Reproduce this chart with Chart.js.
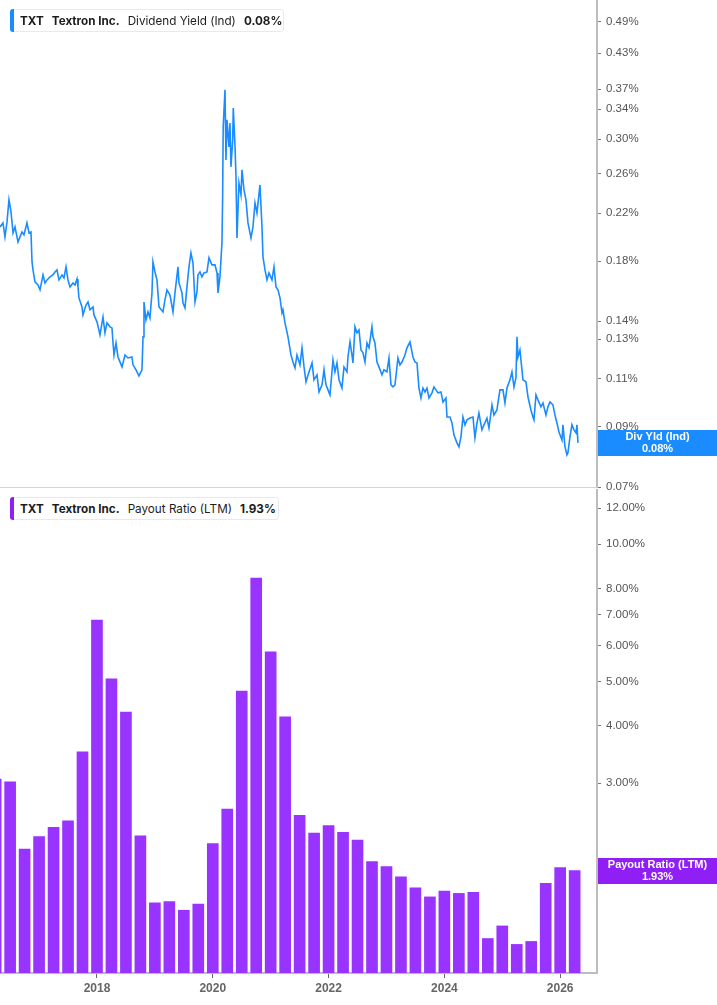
<!DOCTYPE html>
<html>
<head>
<meta charset="utf-8">
<script src="https://cdn.jsdelivr.net/npm/chart.js@4.4.1/dist/chart.umd.min.js"></script>
<style>
  html, body { margin: 0; padding: 0; background: #fff; }
  #wrap { position: relative; width: 717px; height: 1005px; overflow: hidden; }
  #topChart { position: absolute; left: 0; top: 0; }
  #botChart { position: absolute; left: 0; top: 487px; }
  .sep { position: absolute; left: 0; top: 487px; width: 597px; height: 1px; background: #d4d4d4; }
  .legend {
    position: absolute; left: 10px; height: 23px; line-height: 23px;
    padding: 0 0 0 9px; background: #fff;
    border: 1px solid #e9e9e9; border-radius: 3px;
    font-family: Inter, "Noto Sans", sans-serif; font-size: 11.7px; color: #1c1c1c;
    white-space: nowrap; box-sizing: border-box;
  }
  .legend .bar { position: absolute; left: -1px; top: -1px; bottom: -1px; width: 4px; border-radius: 3px 0 0 3px; }
  .legend b { font-weight: 700; }
  .legend span { margin-right: 8px; }
</style>
</head>
<body>
<div id="wrap">
  <canvas id="topChart" width="717" height="500"></canvas>
  <canvas id="botChart" width="717" height="518"></canvas>
  <div class="sep"></div>
  <div class="legend" style="top:9px; width:274px;">
    <div class="bar" style="background:#1a8cff"></div>
    <span><b>TXT</b></span><span><b>Textron Inc.</b></span><span>Dividend Yield (Ind)</span><b>0.08%</b>
  </div>
  <div class="legend" style="top:497px; width:269px;">
    <div class="bar" style="background:#8f1ff5"></div>
    <span><b>TXT</b></span><span><b>Textron Inc.</b></span><span>Payout Ratio (LTM)</span><b>1.93%</b>
  </div>
</div>
<script>
// dividend yield (%), dates as decimal years
const yieldDates = [
  2016.325, 2016.377, 2016.411, 2016.446, 2016.480, 2016.515, 2016.550, 2016.584, 2016.636, 2016.705,
  2016.739, 2016.791, 2016.826, 2016.860, 2016.878, 2016.895, 2016.929, 2016.981, 2017.016, 2017.068,
  2017.102, 2017.137, 2017.189, 2017.240, 2017.275, 2017.309, 2017.344, 2017.396, 2017.430, 2017.465,
  2017.499, 2017.534, 2017.586, 2017.620, 2017.655, 2017.672, 2017.689, 2017.741, 2017.758, 2017.810,
  2017.845, 2017.879, 2017.931, 2017.948, 2018.000, 2018.052, 2018.104, 2018.138, 2018.173, 2018.225,
  2018.259, 2018.277, 2018.294, 2018.328, 2018.363, 2018.432, 2018.484, 2018.535, 2018.604, 2018.622,
  2018.674, 2018.725, 2018.777, 2018.795, 2018.812, 2018.846, 2018.881, 2018.915, 2018.950, 2018.967,
  2019.002, 2019.036, 2019.071, 2019.140, 2019.174, 2019.209, 2019.261, 2019.313, 2019.347, 2019.399,
  2019.416, 2019.468, 2019.485, 2019.520, 2019.554, 2019.589, 2019.623, 2019.658, 2019.693, 2019.727,
  2019.744, 2019.779, 2019.813, 2019.848, 2019.900, 2019.934, 2019.986, 2020.038, 2020.073, 2020.090,
  2020.124, 2020.159, 2020.170, 2020.180, 2020.211, 2020.228, 2020.245, 2020.280, 2020.297, 2020.314,
  2020.344, 2020.354, 2020.383, 2020.401, 2020.418, 2020.452, 2020.487, 2020.504, 2020.539, 2020.573,
  2020.608, 2020.660, 2020.694, 2020.729, 2020.763, 2020.815, 2020.850, 2020.867, 2020.902, 2020.936,
  2020.971, 2021.022, 2021.057, 2021.092, 2021.126, 2021.161, 2021.195, 2021.212, 2021.247, 2021.299,
  2021.351, 2021.385, 2021.420, 2021.454, 2021.506, 2021.541, 2021.576, 2021.610, 2021.645, 2021.714,
  2021.748, 2021.800, 2021.835, 2021.887, 2021.921, 2021.955, 2021.990, 2022.024, 2022.076, 2022.110,
  2022.145, 2022.180, 2022.231, 2022.266, 2022.318, 2022.335, 2022.370, 2022.404, 2022.421, 2022.456,
  2022.490, 2022.525, 2022.560, 2022.594, 2022.629, 2022.663, 2022.698, 2022.749, 2022.767, 2022.801,
  2022.836, 2022.870, 2022.922, 2022.957, 2023.008, 2023.043, 2023.078, 2023.112, 2023.147, 2023.198,
  2023.233, 2023.268, 2023.319, 2023.354, 2023.406, 2023.440, 2023.458, 2023.492, 2023.527, 2023.561,
  2023.596, 2023.630, 2023.665, 2023.699, 2023.734, 2023.786, 2023.820, 2023.855, 2023.889, 2023.941,
  2023.976, 2024.027, 2024.045, 2024.097, 2024.131, 2024.166, 2024.217, 2024.252, 2024.286, 2024.321,
  2024.356, 2024.390, 2024.442, 2024.494, 2024.528, 2024.563, 2024.597, 2024.649, 2024.684, 2024.735,
  2024.770, 2024.822, 2024.856, 2024.908, 2024.925, 2024.960, 2025.012, 2025.046, 2025.081, 2025.133,
  2025.167, 2025.202, 2025.236, 2025.254, 2025.271, 2025.305, 2025.340, 2025.357, 2025.409, 2025.444,
  2025.495, 2025.530, 2025.547, 2025.582, 2025.616, 2025.668, 2025.703, 2025.754, 2025.789, 2025.824,
  2025.875, 2025.910, 2025.944, 2025.979, 2026.031, 2026.048, 2026.083, 2026.117, 2026.134, 2026.169,
  2026.203, 2026.238, 2026.273, 2026.290, 2026.307
];
const yieldValues = [
  0.2078, 0.2113, 0.1993, 0.2122, 0.2327, 0.2213, 0.2027, 0.2078, 0.1952, 0.2035,
  0.2010, 0.2113, 0.2027, 0.2035, 0.1795, 0.1736, 0.1651, 0.1630, 0.1597, 0.1700,
  0.1644, 0.1665, 0.1686, 0.1700, 0.1721, 0.1736, 0.1665, 0.1700, 0.1679, 0.1758,
  0.1665, 0.1617, 0.1644, 0.1630, 0.1672, 0.1617, 0.1544, 0.1487, 0.1438, 0.1499,
  0.1518, 0.1469, 0.1487, 0.1438, 0.1397, 0.1323, 0.1426, 0.1334, 0.1391, 0.1368,
  0.1362, 0.1279, 0.1216, 0.1279, 0.1206, 0.1157, 0.1216, 0.1201, 0.1206, 0.1167,
  0.1143, 0.1114, 0.1143, 0.1312, 0.1518, 0.1408, 0.1456, 0.1420, 0.1577, 0.1795,
  0.1721, 0.1665, 0.1487, 0.1456, 0.1531, 0.1597, 0.1563, 0.1456, 0.1577, 0.1758,
  0.1644, 0.1577, 0.1512, 0.1481, 0.1617, 0.1758, 0.1864, 0.1788, 0.1518, 0.1583,
  0.1700, 0.1721, 0.1686, 0.1714, 0.1721, 0.1826, 0.1773, 0.1773, 0.1714, 0.1577,
  0.1686, 0.1952, 0.2356, 0.3158, 0.3687, 0.2751, 0.3252, 0.2904, 0.3211, 0.2672,
  0.2991, 0.3419, 0.2929, 0.2562, 0.1985, 0.2498, 0.2376, 0.2638, 0.2426, 0.2327,
  0.2113, 0.1985, 0.2078, 0.2298, 0.2204, 0.2477, 0.2078, 0.1833, 0.1736, 0.1665,
  0.1714, 0.1665, 0.1758, 0.1617, 0.1597, 0.1544, 0.1450, 0.1469, 0.1391, 0.1312,
  0.1216, 0.1181, 0.1152, 0.1216, 0.1167, 0.1253, 0.1157, 0.1087, 0.1119, 0.1176,
  0.1096, 0.1119, 0.1042, 0.1073, 0.1143, 0.1073, 0.1051, 0.1029, 0.1191, 0.1133,
  0.1176, 0.1096, 0.1059, 0.1157, 0.1133, 0.1206, 0.1284, 0.1216, 0.1176, 0.1368,
  0.1334, 0.1350, 0.1242, 0.1227, 0.1181, 0.1279, 0.1253, 0.1368, 0.1312, 0.1279,
  0.1181, 0.1157, 0.1119, 0.1143, 0.1133, 0.1201, 0.1073, 0.1064, 0.1073, 0.1201,
  0.1167, 0.1181, 0.1216, 0.1253, 0.1284, 0.1232, 0.1206, 0.1181, 0.1176, 0.1059,
  0.1016, 0.1059, 0.1042, 0.1059, 0.1016, 0.1038, 0.1064, 0.1051, 0.1038, 0.1042,
  0.0999, 0.1016, 0.0938, 0.0938, 0.0915, 0.0870, 0.0842, 0.0828, 0.0863, 0.0938,
  0.0908, 0.0927, 0.0934, 0.0938, 0.0860, 0.0915, 0.0954, 0.0889, 0.0908, 0.0934,
  0.0896, 0.0987, 0.0946, 0.0966, 0.0995, 0.1051, 0.1051, 0.0995, 0.1059, 0.1096,
  0.1133, 0.1064, 0.1105, 0.1312, 0.1206, 0.1242, 0.1143, 0.1096, 0.1087, 0.1020,
  0.0966, 0.0938, 0.0927, 0.1029, 0.1008, 0.0979, 0.0995, 0.0946, 0.0979, 0.0999,
  0.0987, 0.0946, 0.0915, 0.0881, 0.0852, 0.0908, 0.0828, 0.0801, 0.0808, 0.0863,
  0.0908, 0.0889, 0.0878, 0.0908, 0.0842
];

// payout ratio (LTM, %), quarterly
const payoutQuarters = [
  '2016Q1', '2016Q2', '2016Q3', '2016Q4', '2017Q1', '2017Q2', '2017Q3', '2017Q4',
  '2018Q1', '2018Q2', '2018Q3', '2018Q4', '2019Q1', '2019Q2', '2019Q3', '2019Q4',
  '2020Q1', '2020Q2', '2020Q3', '2020Q4', '2021Q1', '2021Q2', '2021Q3', '2021Q4',
  '2022Q1', '2022Q2', '2022Q3', '2022Q4', '2023Q1', '2023Q2', '2023Q3', '2023Q4',
  '2024Q1', '2024Q2', '2024Q3', '2024Q4', '2025Q1', '2025Q2', '2025Q3', '2025Q4',
  '2026Q1'
];
const payoutValues = [
  3.06, 3.02, 2.15, 2.29, 2.40, 2.48, 3.51, 6.82,
  5.07, 4.29, 2.30, 1.64, 1.65, 1.58, 1.63, 2.21,
  2.63, 4.77, 8.43, 5.81, 4.19, 2.55, 2.33, 2.42,
  2.34, 2.25, 2.02, 1.97, 1.87, 1.77, 1.69, 1.74,
  1.72, 1.73, 1.37, 1.46, 1.33, 1.35, 1.81, 1.96,
  1.93
];

const yieldTicks = [0.07, 0.09, 0.11, 0.13, 0.14, 0.18, 0.22, 0.26, 0.30, 0.34, 0.37, 0.43, 0.49];
const payoutTicks = [2, 3, 4, 5, 6, 7, 8, 10, 12];
const yearTicks = [2018, 2020, 2022, 2024, 2026];

const xMin = 2016.325, xMax = 2026.636;
const axisFont = '"Liberation Sans", Arial, sans-serif';

function quarterToYear(q) {
  return parseInt(q.slice(0, 4)) + parseInt(q.slice(5)) / 4;
}

// box with the last value, sitting on the right axis
const lastValueLabel = {
  id: 'lastValueLabel',
  afterDraw(chart, args, opts) {
    const data = chart.data.datasets[0].data;
    const last = data[data.length - 1];
    const y = chart.scales.y.getPixelForValue(last.y);
    const x0 = chart.chartArea.right + 1;
    const w = chart.width - x0;
    const ctx = chart.ctx;
    ctx.save();
    ctx.fillStyle = opts.color;
    ctx.fillRect(x0, Math.round(y - 13), w, 26);
    ctx.fillStyle = '#fff';
    ctx.font = 'bold 11px ' + axisFont;
    ctx.textAlign = 'center';
    ctx.textBaseline = 'middle';
    ctx.fillText(opts.title, x0 + w / 2, y - 6);
    ctx.fillText(last.y.toFixed(2) + '%', x0 + w / 2, y + 6);
    ctx.restore();
  }
};

function rightAxis(min, max, ticks) {
  return {
    type: 'logarithmic',
    position: 'right',
    min: min,
    max: max,
    afterBuildTicks: s => { s.ticks = ticks.map(v => ({ value: v })); },
    afterFit: s => { s.width = 120; s.paddingTop = 0; s.paddingBottom = 0; },
    grid: { drawOnChartArea: false, tickLength: 4, color: '#777' },
    border: { color: '#bdbdbd', width: 2 },
    ticks: {
      autoSkip: false,
      padding: 5,
      color: '#555',
      font: { size: 11.5, family: axisFont },
      callback: v => Number(v).toFixed(2) + '%'
    }
  };
}

Chart.register(lastValueLabel);

new Chart(document.getElementById('topChart'), {
  type: 'line',
  data: {
    datasets: [{
      data: yieldDates.map((d, i) => ({ x: d, y: yieldValues[i] })),
      borderColor: '#1a8cff',
      borderWidth: 1.6,
      pointRadius: 0,
      tension: 0
    }]
  },
  options: {
    responsive: false,
    animation: false,
    devicePixelRatio: 1,
    layout: { padding: { bottom: 13 } },
    scales: {
      x: { type: 'linear', min: xMin, max: xMax, display: false },
      y: rightAxis(0.07, 0.537, yieldTicks)
    },
    plugins: {
      legend: { display: false },
      tooltip: { enabled: false },
      lastValueLabel: { color: '#1a8cff', title: 'Div Yld (Ind)' }
    }
  }
});

new Chart(document.getElementById('botChart'), {
  type: 'bar',
  data: {
    datasets: [{
      data: payoutQuarters.map((q, i) => ({ x: quarterToYear(q), y: payoutValues[i] })),
      backgroundColor: '#9933ff',
      borderWidth: 0,
      barThickness: 11
    }]
  },
  options: {
    responsive: false,
    animation: false,
    devicePixelRatio: 1,
    layout: { padding: { top: 3 } },
    scales: {
      x: {
        type: 'linear',
        min: xMin,
        max: xMax,
        offset: false,
        afterBuildTicks: s => { s.ticks = yearTicks.map(v => ({ value: v })); },
        afterFit: s => { s.height = 32; s.paddingLeft = 0; s.paddingRight = 0; },
        grid: { drawOnChartArea: false, offset: false, tickLength: 5, color: '#666' },
        border: { color: '#bdbdbd', width: 2 },
        ticks: {
          maxRotation: 0,
          padding: 3,
          color: '#666',
          font: { size: 12, weight: 'bold', family: axisFont },
          callback: v => String(v)
        }
      },
      y: rightAxis(1.1515, 13.14, payoutTicks)
    },
    plugins: {
      legend: { display: false },
      tooltip: { enabled: false },
      lastValueLabel: { color: '#8f1ff5', title: 'Payout Ratio (LTM)' }
    }
  }
});
</script>
</body>
</html>
